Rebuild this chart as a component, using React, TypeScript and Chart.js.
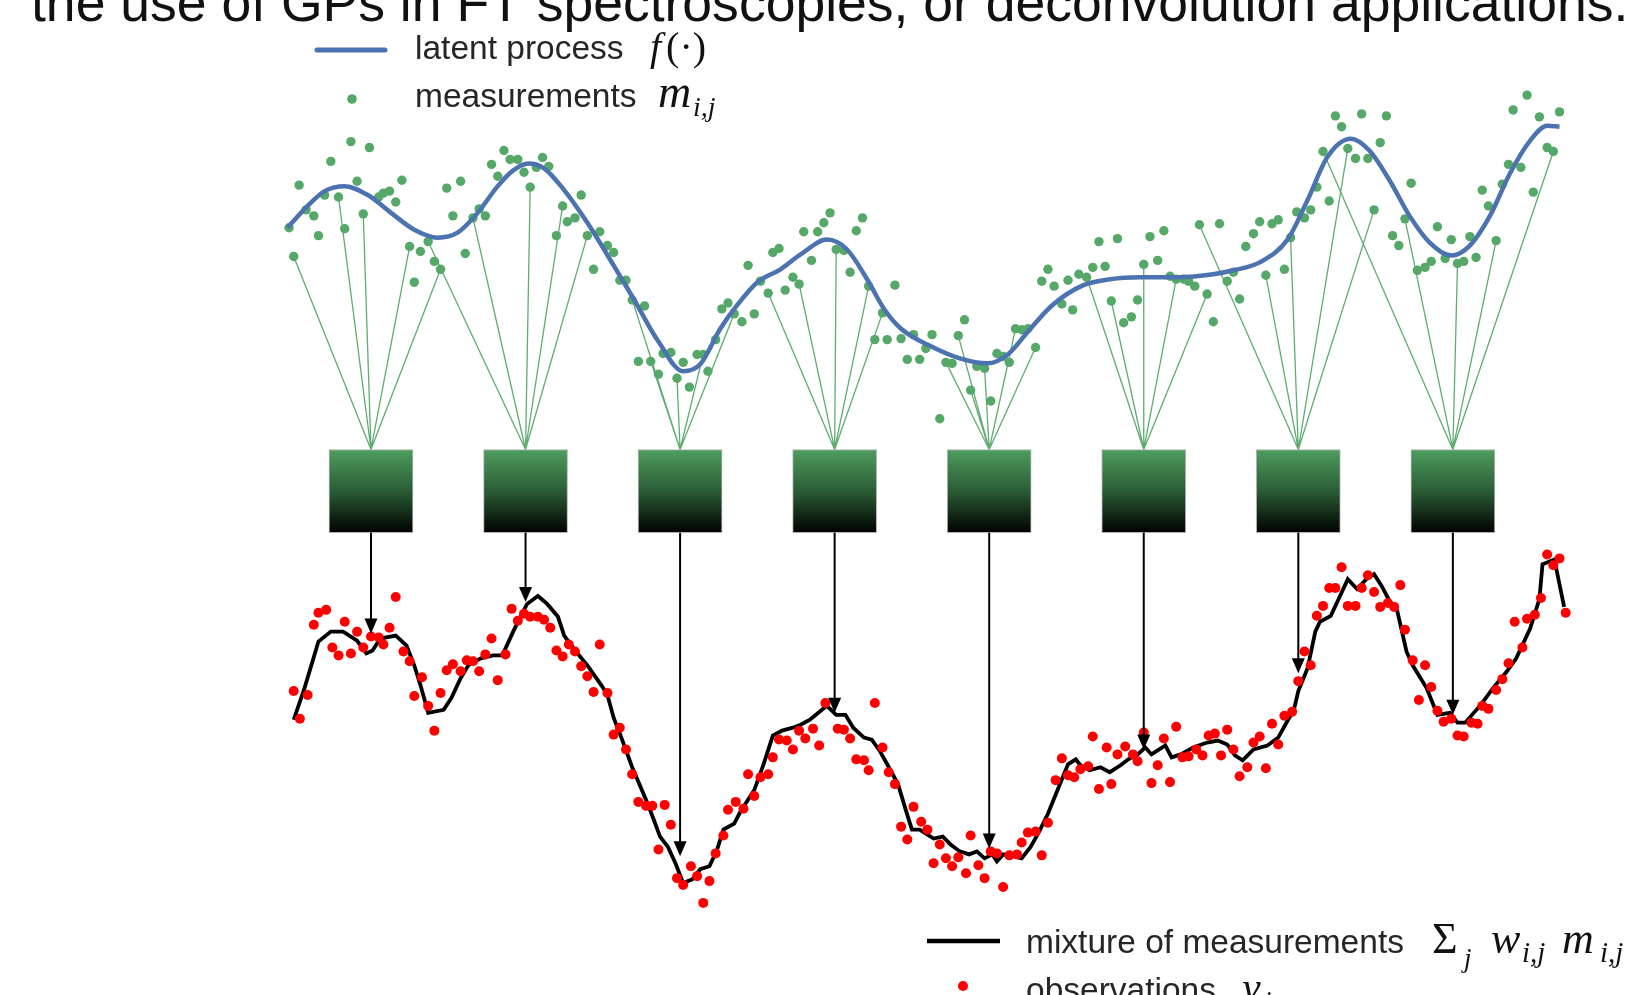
import React, { useEffect, useRef } from "react";
import { Chart, registerables } from "chart.js";

Chart.register(...registerables);

// ---- latent process f(x) ----
const latentX = [-0.4, 0.9, 2.0, 3.3, 4.8, 6.3, 7.8, 9.3, 10.6, 11.9, 13.2, 14.2, 15.2, 16.2, 17.5, 19.0, 20.7, 22.0, 23.6, 25.2, 26.3, 27.6, 28.7, 30.0, 31.5, 32.8, 34.5, 35.8, 37.1, 38.2, 39.3, 41.0, 43.1, 44.9, 46.2, 47.5, 49.1, 51.1, 52.8, 54.8, 57.2, 59.5, 60.8, 62.5, 64.3, 65.6, 66.9, 68.4, 69.6, 70.9, 72.2, 73.5, 74.9, 76.1, 77.4, 78.7, 80.0, 81.1, 81.9];
const latentY = [15.5, 17.7, 19.2, 19.7, 18.8, 17.0, 15.3, 14.5, 15.0, 17.0, 19.7, 21.3, 22.0, 21.5, 19.3, 16.0, 11.7, 8.3, 4.0, 1.0, 1.7, 5.3, 7.7, 10.0, 11.3, 12.8, 14.3, 13.3, 10.3, 7.3, 5.3, 3.7, 2.3, 1.8, 2.7, 5.0, 7.7, 9.7, 10.3, 10.5, 10.5, 10.8, 11.2, 12.0, 14.3, 18.3, 22.7, 24.5, 23.3, 20.3, 16.7, 14.0, 12.7, 13.7, 16.7, 21.0, 24.3, 25.8, 25.7];

// ---- noisy measurements m_ij ----
const measX = [0.35, 2.4, 3.7, 4.9, 4.1, 7.0, 0.8, 1.3, 2.0, 2.9, 1.6, 3.3, 4.5, 5.5, 5.8, 6.2, 6.6, 0.0, -0.3, 7.5, 8.2, 8.7, 9.1, 9.5, 7.8, 9.9, 10.8, 10.3, 11.1, 11.6, 12.0, 12.4, 12.8, 13.2, 13.6, 14.0, 14.5, 14.9, 15.3, 15.7, 16.1, 16.5, 17.4, 17.0, 17.7, 18.2, 18.6, 19.0, 19.8, 20.3, 20.7, 19.4, 21.1, 21.5, 21.9, 22.7, 22.3, 23.1, 23.6, 23.9, 24.4, 24.8, 25.2, 25.6, 26.1, 26.5, 26.8, 27.3, 27.7, 28.1, 28.5, 29.0, 29.8, 29.4, 30.2, 30.7, 31.0, 31.4, 31.8, 32.3, 32.7, 33.0, 33.5, 33.9, 34.3, 34.7, 35.1, 35.6, 36.0, 36.4, 36.8, 37.2, 38.1, 38.9, 37.6, 38.4, 39.3, 40.1, 39.7, 40.5, 40.9, 41.3, 42.2, 42.6, 43.0, 43.4, 43.8, 44.2, 44.7, 45.1, 41.8, 45.5, 45.9, 46.3, 46.7, 47.1, 47.5, 48.0, 48.4, 48.8, 49.2, 49.7, 50.1, 50.4, 50.8, 51.3, 51.7, 52.1, 52.5, 52.9, 53.3, 53.7, 54.2, 54.6, 55.0, 55.4, 55.9, 56.3, 56.7, 57.1, 57.6, 57.9, 58.3, 58.6, 59.1, 59.5, 59.9, 60.4, 60.8, 61.2, 61.6, 62.1, 62.5, 62.9, 63.3, 63.7, 64.1, 64.5, 64.9, 65.4, 65.8, 66.2, 66.6, 67.0, 67.4, 67.8, 68.2, 68.7, 69.1, 69.5, 69.9, 70.3, 70.7, 71.1, 71.5, 71.9, 72.3, 72.7, 73.2, 73.6, 74.0, 74.5, 74.9, 75.3, 75.7, 76.1, 76.5, 76.9, 77.3, 77.8, 78.2, 78.6, 79.4, 80.2, 78.9, 79.8, 80.6, 81.1, 81.5, 81.9];
const measY = [19.8, 22.2, 24.2, 23.6, 20.2, 20.3, 17.3, 16.7, 18.8, 18.6, 14.7, 15.4, 16.9, 18.6, 19.0, 19.2, 18.1, 12.6, 15.5, 13.6, 13.1, 14.1, 12.1, 11.3, 10.0, 19.5, 20.2, 16.7, 12.9, 16.5, 17.4, 16.7, 21.9, 20.7, 23.3, 22.4, 22.4, 21.1, 19.6, 21.6, 22.6, 21.7, 17.7, 14.7, 16.1, 16.5, 18.8, 14.7, 15.1, 13.7, 13.0, 11.3, 10.2, 10.2, 8.2, 7.6, 2.0, 2.0, 0.7, 2.8, 2.9, 0.3, 1.9, -0.6, 2.7, 2.7, 1.0, 4.2, 7.3, 7.9, 6.8, 6.0, 6.8, 11.7, 10.1, 8.9, 13.0, 13.4, 9.2, 10.5, 9.8, 15.1, 12.2, 15.1, 16.0, 17.0, 13.3, 13.2, 11.0, 15.2, 16.5, 9.6, 6.9, 9.7, 4.2, 4.2, 4.3, 4.7, 2.2, 2.2, 3.3, 4.7, 1.9, 1.8, 4.6, 6.2, -0.9, 1.5, 1.3, -2.0, -3.8, 2.8, 2.5, 1.9, 5.3, 5.2, 5.3, 3.4, 10.1, 11.3, 9.6, 7.8, 10.2, 7.2, 10.8, 10.5, 11.5, 14.1, 11.6, 8.1, 14.4, 5.9, 6.5, 8.2, 11.8, 14.6, 12.2, 15.2, 10.6, 10.3, 10.3, 10.1, 9.6, 15.8, 8.8, 6.0, 15.9, 10.1, 11.0, 8.3, 13.6, 14.9, 16.1, 10.7, 15.9, 16.3, 11.3, 14.5, 17.1, 16.5, 17.3, 19.6, 23.2, 18.2, 26.8, 25.7, 23.5, 22.5, 27.0, 22.5, 17.3, 24.1, 26.8, 14.7, 13.7, 16.4, 20.0, 11.2, 11.5, 12.1, 15.6, 12.4, 14.3, 11.9, 12.1, 14.6, 12.5, 19.3, 17.7, 14.2, 19.9, 21.9, 21.6, 19.1, 27.4, 28.9, 26.7, 23.6, 23.2, 27.2];

// ---- kernels: centres, extent and the measurements each one mixes ----
const boxCenters = [5, 15, 25, 35, 45, 55, 65, 75];
const boxTop = -6.9;
const boxBottom = -15.3;
const boxLinks = [
  [17, 9, 12, 19, 23],
  [21, 29, 38, 42, 47],
  [53, 57, 61, 65, 70],
  [75, 80, 86, 91, 92],
  [102, 104, 106, 108, 114, 117],
  [125, 129, 134, 139, 144],
  [143, 153, 157, 166, 170],
  [162, 175, 183, 189, 198],
];
const arrowTips = [26.5, 29.7, 4.0, 18.5, 4.8, 14.8, 22.5, 18.3];

// ---- mixture of measurements ----
const mixX = [0.0, 0.7, 1.6, 2.4, 3.2, 4.1, 4.7, 5.1, 5.6, 6.6, 7.3, 7.8, 8.2, 8.7, 9.7, 10.2, 10.8, 11.3, 12.1, 12.9, 13.5, 14.2, 14.7, 15.1, 15.8, 16.4, 17.1, 17.5, 18.1, 19.0, 19.9, 20.3, 20.7, 21.2, 21.9, 22.8, 23.3, 23.7, 24.2, 24.7, 25.2, 25.8, 26.3, 26.9, 27.4, 27.8, 28.5, 28.9, 29.8, 30.4, 31.0, 31.6, 32.3, 32.8, 33.4, 34.1, 34.5, 35.1, 35.7, 36.2, 36.9, 37.4, 37.9, 38.4, 39.1, 39.6, 40.0, 40.5, 41.4, 42.0, 42.5, 43.1, 43.7, 44.2, 44.7, 45.2, 45.5, 45.9, 46.6, 47.1, 47.7, 48.3, 48.8, 49.5, 50.1, 50.6, 50.9, 51.5, 52.2, 52.8, 53.5, 54.0, 54.6, 55.1, 55.5, 55.9, 56.4, 56.8, 57.4, 58.2, 59.1, 59.8, 60.4, 60.9, 61.4, 62.1, 63.0, 63.7, 64.3, 64.7, 65.0, 65.6, 66.1, 66.4, 67.1, 67.7, 68.2, 68.8, 69.4, 69.9, 70.4, 70.9, 71.4, 72.0, 72.4, 73.3, 74.0, 74.8, 75.3, 75.8, 76.8, 77.6, 78.5, 79.1, 80.0, 80.6, 80.8, 81.6, 81.7, 82.2];
const mixY = [17.8, 21.0, 25.7, 26.7, 26.7, 25.8, 24.5, 24.8, 26.0, 26.3, 25.3, 23.3, 21.3, 18.5, 18.8, 20.0, 22.0, 23.3, 24.0, 24.3, 24.3, 26.7, 28.3, 29.5, 30.3, 29.5, 28.2, 26.3, 25.0, 23.3, 21.3, 20.3, 18.0, 16.0, 13.0, 9.7, 7.7, 6.0, 5.0, 3.3, 1.3, 1.7, 2.7, 3.0, 4.7, 6.7, 7.3, 8.5, 10.7, 13.3, 16.2, 16.7, 17.0, 17.3, 17.8, 18.7, 19.2, 18.3, 18.3, 17.0, 16.0, 15.8, 14.7, 13.3, 11.3, 8.7, 6.7, 6.7, 5.8, 6.0, 5.2, 4.5, 4.2, 4.5, 3.8, 4.2, 3.5, 4.2, 4.0, 3.8, 5.0, 6.7, 8.3, 11.0, 13.3, 13.8, 13.2, 12.7, 13.0, 12.5, 13.2, 13.8, 14.3, 15.0, 14.3, 14.7, 15.2, 14.0, 14.3, 15.0, 15.5, 15.7, 15.3, 14.2, 13.7, 14.8, 15.2, 16.0, 17.7, 18.7, 20.7, 23.0, 26.7, 27.7, 28.3, 30.3, 32.0, 31.0, 32.0, 32.5, 31.3, 29.8, 28.8, 24.7, 23.3, 21.0, 18.3, 18.5, 17.5, 17.5, 19.3, 21.0, 22.7, 24.0, 27.0, 30.0, 33.5, 34.0, 33.0, 29.2];

// ---- observations y_i ----
const obsX = [0.0, 0.4, 0.9, 1.3, 1.6, 2.1, 3.3, 2.5, 2.9, 3.7, 4.1, 4.5, 5.0, 5.5, 5.8, 6.2, 6.6, 7.1, 7.5, 7.8, 8.3, 8.7, 9.1, 9.5, 9.9, 10.3, 10.8, 11.2, 11.6, 12.0, 12.4, 12.8, 13.2, 13.7, 14.1, 14.5, 14.9, 15.3, 15.8, 16.2, 16.6, 17.0, 17.4, 17.8, 18.2, 18.6, 19.0, 19.4, 19.8, 20.3, 20.7, 21.1, 21.5, 21.9, 22.3, 22.8, 23.2, 24.0, 24.4, 23.6, 24.8, 25.2, 25.7, 26.1, 26.5, 26.9, 27.3, 27.8, 28.1, 28.6, 29.1, 29.4, 29.8, 30.2, 30.7, 31.0, 31.4, 31.9, 32.3, 32.7, 33.1, 33.6, 34.0, 34.4, 35.2, 35.6, 36.0, 36.4, 36.9, 37.2, 37.6, 38.1, 38.5, 38.9, 39.3, 39.7, 40.1, 40.6, 41.0, 41.4, 41.8, 42.2, 42.6, 43.0, 43.5, 43.8, 44.3, 44.7, 45.1, 45.5, 45.9, 46.3, 46.8, 47.1, 47.5, 48.0, 48.4, 48.8, 49.3, 49.7, 50.1, 50.5, 50.9, 51.4, 51.7, 52.1, 52.6, 52.9, 53.3, 53.8, 54.3, 54.6, 55.0, 55.5, 55.9, 56.3, 56.7, 57.1, 57.5, 57.9, 58.4, 58.8, 59.2, 59.6, 60.0, 60.4, 60.8, 61.2, 61.7, 62.1, 62.5, 62.9, 63.3, 63.7, 64.1, 64.6, 65.0, 65.4, 65.8, 66.2, 66.6, 67.0, 67.4, 67.8, 68.2, 68.7, 69.1, 69.5, 69.9, 70.3, 70.8, 71.2, 71.6, 71.9, 72.4, 72.8, 73.2, 73.6, 74.0, 74.4, 74.9, 75.3, 75.7, 76.2, 76.6, 76.9, 77.3, 77.8, 78.2, 78.6, 79.0, 79.5, 79.8, 80.3, 80.7, 81.1, 81.5, 81.9, 82.3];
const obsY = [20.7, 17.9, 20.3, 27.4, 28.6, 28.9, 27.7, 25.1, 24.3, 24.5, 26.7, 25.1, 26.2, 26.1, 25.4, 27.1, 30.2, 24.7, 23.7, 20.2, 22.1, 19.2, 16.7, 20.5, 22.8, 23.4, 22.7, 23.8, 23.7, 22.7, 24.4, 26.0, 21.8, 24.4, 29.0, 27.8, 28.5, 28.2, 28.2, 27.9, 27.1, 24.8, 24.2, 25.4, 24.7, 23.2, 22.2, 20.6, 25.4, 20.5, 16.3, 17.0, 14.8, 12.3, 9.5, 9.1, 9.1, 9.2, 7.2, 4.7, 1.8, 1.1, 3.0, 2.0, -0.7, 1.5, 4.3, 6.1, 8.7, 9.5, 8.8, 12.3, 10.1, 12.0, 12.3, 14.0, 15.8, 15.7, 14.8, 16.7, 15.9, 16.9, 15.2, 19.5, 16.9, 16.8, 15.9, 13.8, 13.7, 12.7, 19.5, 15.0, 12.5, 11.3, 7.0, 5.7, 9.0, 7.5, 6.7, 3.3, 5.2, 3.8, 3.0, 3.9, 2.3, 6.1, 3.1, 1.8, 4.5, 4.3, 0.9, 4.1, 4.2, 5.4, 6.4, 6.5, 4.1, 7.4, 11.7, 13.9, 12.2, 12.0, 12.8, 13.1, 16.1, 10.8, 15.0, 11.3, 14.3, 15.1, 14.3, 13.6, 16.5, 11.4, 13.2, 15.9, 11.5, 17.1, 14.0, 14.1, 14.8, 14.2, 16.2, 16.4, 14.2, 16.8, 14.8, 12.1, 13.0, 15.5, 16.1, 12.9, 17.4, 15.3, 18.2, 18.6, 21.7, 24.7, 23.3, 28.3, 29.3, 31.1, 31.1, 33.2, 29.3, 29.3, 31.1, 32.4, 30.7, 29.2, 29.6, 29.2, 31.4, 26.9, 23.8, 19.8, 23.3, 21.1, 18.7, 17.6, 17.9, 16.2, 16.1, 17.5, 17.4, 19.2, 18.9, 20.8, 21.9, 23.5, 27.7, 25.1, 28.0, 28.4, 30.1, 34.5, 33.4, 34.1, 28.6];

const headline = "the use of GPs in FT spectroscopies, or deconvolution applications.";

const GREEN = "#55a868";
const BLUE = "#4c72b0";
const TEXT = "#262626";
const SANS = '"Liberation Sans", Arial, sans-serif';
const SERIF = '"Liberation Serif", "DejaVu Serif", serif';

const X_RANGE = { min: -18.68, max: 86.72 };
const TOP_RANGE = { min: -61.5, max: 38 };
const BOT_RANGE = { min: -9.5, max: 90 };

const zip = (xs: number[], ys: number[]) => xs.map((x, i) => ({ x, y: ys[i] }));

// straight segments from each kernel's top centre to the measurements it mixes
const linkSegments: { x: number; y: number | null }[] = [];
boxCenters.forEach((c, i) => {
  boxLinks[i].forEach((k) => {
    linkSegments.push({ x: c, y: boxTop }, { x: measX[k], y: measY[k] }, { x: measX[k], y: null });
  });
});

// vertical position of a value on the upper axis, usable before layout finishes
const topPixel = (v: number, height: number) =>
  ((TOP_RANGE.max - v) / (TOP_RANGE.max - TOP_RANGE.min)) * height;

// arrows from the bottom of each kernel down to the mixture
const arrowPlugin = {
  id: "kernelArrows",
  afterDatasetsDraw(chart: any) {
    const { ctx, scales } = chart;
    ctx.save();
    ctx.strokeStyle = "#000";
    ctx.fillStyle = "#000";
    ctx.lineWidth = 2;
    boxCenters.forEach((c, i) => {
      const px = scales.x.getPixelForValue(c);
      const y0 = scales.yTop.getPixelForValue(boxBottom);
      const y1 = scales.yBot.getPixelForValue(arrowTips[i]);
      ctx.beginPath();
      ctx.moveTo(px, y0);
      ctx.lineTo(px, y1 - 12);
      ctx.stroke();
      ctx.beginPath();
      ctx.moveTo(px - 6.5, y1 - 15);
      ctx.lineTo(px + 6.5, y1 - 15);
      ctx.lineTo(px, y1);
      ctx.closePath();
      ctx.fill();
    });
    ctx.restore();
  },
};

// headline, legends and their math labels
const textPlugin = {
  id: "labels",
  afterDraw(chart: any) {
    const ctx: CanvasRenderingContext2D = chart.ctx;
    ctx.save();
    ctx.textBaseline = "alphabetic";
    ctx.textAlign = "left";

    // headline (runs off the top edge)
    ctx.font = `100px ${SANS}`;
    const w100 = ctx.measureText(headline).width;
    const size = (100 * 1598) / w100;
    ctx.font = `${size}px ${SANS}`;
    ctx.fillStyle = "#111";
    ctx.fillText(headline, 31, 21);

    const sub = (s: string, x: number, y: number, px = 27) => {
      ctx.font = `italic ${px}px ${SERIF}`;
      ctx.fillText(s, x, y);
    };
    const it = (s: string, x: number, y: number, px = 42) => {
      ctx.font = `italic ${px}px ${SERIF}`;
      ctx.fillText(s, x, y);
      return ctx.measureText(s).width;
    };

    // top legend
    ctx.strokeStyle = BLUE;
    ctx.lineWidth = 5;
    ctx.lineCap = "round";
    ctx.beginPath();
    ctx.moveTo(317, 50);
    ctx.lineTo(385, 50);
    ctx.stroke();
    ctx.fillStyle = GREEN;
    ctx.beginPath();
    ctx.arc(352, 99, 4.8, 0, Math.PI * 2);
    ctx.fill();

    ctx.fillStyle = TEXT;
    ctx.font = `33.5px ${SANS}`;
    ctx.fillText("latent process", 415, 59);
    ctx.fillText("measurements", 415, 107);

    ctx.fillStyle = "#111";
    const wf = it("f", 650, 60, 40);
    ctx.font = `40px ${SERIF}`;
    ctx.fillText("(\u00b7)", 650 + wf + 5, 60);
    it("m", 658, 107, 46);
    sub("i,j", 693, 116, 28);

    // bottom legend
    ctx.strokeStyle = "#000";
    ctx.lineWidth = 4.5;
    ctx.lineCap = "butt";
    ctx.beginPath();
    ctx.moveTo(927, 941);
    ctx.lineTo(1000, 941);
    ctx.stroke();
    ctx.fillStyle = "#ff0000";
    ctx.beginPath();
    ctx.arc(963, 986, 5, 0, Math.PI * 2);
    ctx.fill();

    ctx.fillStyle = TEXT;
    ctx.font = `33.5px ${SANS}`;
    ctx.fillText("mixture of measurements", 1026, 953);
    ctx.fillText("observations", 1026, 1001);

    ctx.fillStyle = "#111";
    ctx.font = `44px ${SERIF}`;
    ctx.fillText("\u03a3", 1432, 953);
    sub("j", 1464, 967);
    it("w", 1491, 953, 44);
    sub("i,j", 1522, 962, 29);
    it("m", 1562, 953, 44);
    sub("i,j", 1600, 962, 29);
    it("y", 1242, 1001);
    sub("i", 1264, 1010);

    ctx.restore();
  },
};

export default function App() {
  const canvasRef = useRef<HTMLCanvasElement | null>(null);

  useEffect(() => {
    const canvas = canvasRef.current;
    if (!canvas) return;

    const chart = new Chart(canvas, {
      type: "line",
      data: {
        datasets: [
          {
            type: "line",
            label: "links",
            data: linkSegments as any,
            yAxisID: "yTop",
            borderColor: "rgba(85,168,104,0.95)",
            borderWidth: 1.3,
            pointRadius: 0,
            spanGaps: false,
            tension: 0,
            order: 6,
          },
          {
            type: "scatter",
            label: "measurements",
            data: zip(measX, measY),
            yAxisID: "yTop",
            backgroundColor: GREEN,
            borderWidth: 0,
            pointRadius: 4.7,
            order: 5,
          },
          {
            type: "line",
            label: "latent process",
            data: zip(latentX, latentY),
            yAxisID: "yTop",
            borderColor: BLUE,
            borderWidth: 4.5,
            pointRadius: 0,
            cubicInterpolationMode: "monotone",
            order: 4,
          },
          {
            type: "bar",
            label: "kernels",
            data: boxCenters.map((c) => ({ x: c, y: [boxBottom, boxTop] })) as any,
            yAxisID: "yTop",
            barThickness: 84,
            borderSkipped: false,
            borderWidth: 1,
            borderColor: "rgba(170,170,170,0.9)",
            backgroundColor: (ctx: any) => {
              const ch = ctx.chart;
              const h = ch.height || 995;
              const t = topPixel(boxTop, h);
              const b = topPixel(boxBottom, h);
              if (!Number.isFinite(t) || !Number.isFinite(b)) return "#2f6b3c";
              const g = ch.ctx.createLinearGradient(0, t, 0, b);
              g.addColorStop(0, "#4f9e5f");
              g.addColorStop(0.5, "#2a5c35");
              g.addColorStop(1, "#000000");
              return g;
            },
            order: 3,
          },
          {
            type: "line",
            label: "mixture",
            data: zip(mixX, mixY),
            yAxisID: "yBot",
            borderColor: "#000",
            borderWidth: 3.8,
            pointRadius: 0,
            tension: 0,
            order: 2,
          },
          {
            type: "scatter",
            label: "observations",
            data: zip(obsX, obsY),
            yAxisID: "yBot",
            backgroundColor: "#ff0000",
            borderWidth: 0,
            pointRadius: 5,
            order: 1,
          },
        ],
      },
      options: {
        responsive: false,
        animation: false,
        devicePixelRatio: 1,
        layout: { padding: 0 },
        events: [],
        plugins: {
          legend: { display: false },
          tooltip: { enabled: false },
          title: { display: false },
        },
        scales: {
          x: { type: "linear", ...X_RANGE, offset: false, grid: { offset: false }, display: false },
          yTop: { type: "linear", ...TOP_RANGE, beginAtZero: false, display: false },
          yBot: { type: "linear", ...BOT_RANGE, display: false },
        },
      },
      plugins: [arrowPlugin, textPlugin],
    } as any);

    return () => chart.destroy();
  }, []);

  return (
    <div style={{ position: "fixed", left: 0, top: 0, width: 1639, height: 995, background: "#fff" }}>
      <canvas ref={canvasRef} width={1639} height={995} style={{ display: "block", width: 1639, height: 995 }} />
    </div>
  );
}
